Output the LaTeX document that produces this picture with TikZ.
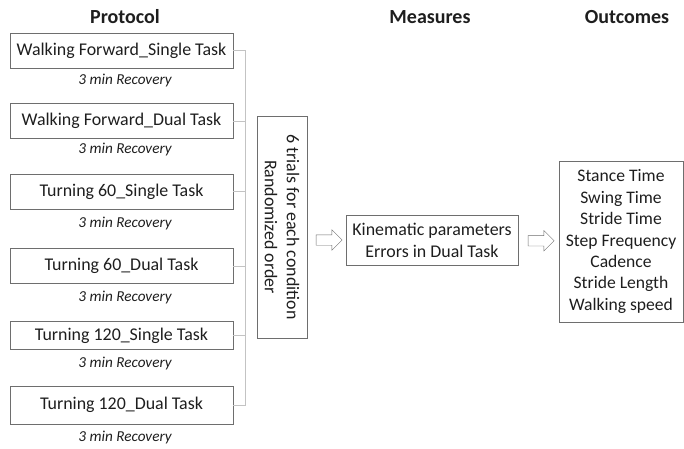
\documentclass[tikz,border=0pt]{standalone}
\usepackage{fontspec}
\setmainfont{Carlito}
\usetikzlibrary{shapes.arrows}
\definecolor{boxline}{RGB}{110,110,110}
\definecolor{linkline}{RGB}{195,195,195}
\definecolor{ink}{RGB}{30,30,30}

\begin{document}
\begin{tikzpicture}[x=1pt, y=-1pt,
  every node/.style={text=ink},
  title/.style={font=\fontsize{20}{24}\selectfont\bfseries},
  task/.style={draw=boxline, minimum width=223pt, minimum height=35pt, inner sep=0pt, font=\fontsize{17.9}{21}\selectfont},
  rest/.style={font=\fontsize{15.2}{18}\selectfont\itshape},
  bigbox/.style={draw=boxline, align=center, inner sep=0pt, font=\fontsize{17.9}{22}\selectfont},
  hollow/.style={single arrow, draw=boxline, fill=white, minimum height=26pt,
    inner xsep=0pt, inner ysep=5pt, single arrow head extend=5pt}]
\useasboundingbox (0,0) rectangle (684,448);
% column titles
\node (protocol)[title] at (125,17) {Protocol};
\node (measures)[title] at (430,17) {Measures};
\node (outcomes)[title] at (627,17) {Outcomes};
% protocol conditions
\node (b1)[task] at (121.5,50.5) {Walking Forward\_Single Task};
\node (r1)[rest] at (125,80) {3 min Recovery};
\node (b2)[task] at (121.5,121) {Walking Forward\_Dual Task};
\node (r2)[rest] at (125,149) {3 min Recovery};
\node (b3)[task] at (121.5,191.5) {Turning 60\_Single Task};
\node (r3)[rest] at (125,223) {3 min Recovery};
\node (b4)[task] at (121.5,266) {Turning 60\_Dual Task};
\node (r4)[rest] at (125,297) {3 min Recovery};
\node (b5)[task, minimum height=28pt] at (121.5,335.5) {Turning 120\_Single Task};
\node (r5)[rest] at (125,363) {3 min Recovery};
\node (b6)[task, minimum height=38pt] at (121.5,405) {Turning 120\_Dual Task};
\node (r6)[rest] at (125,437) {3 min Recovery};
% bracket joining the conditions
\coordinate (spine) at (245,0);
\draw[linkline] (b1.east) -- (b1.east -| spine) -- (b6.east -| spine) -- (b6.east);
\foreach \b in {b2,b3,b4,b5}
  \draw[linkline] (\b.east) -- (\b.east -| spine);
% trials, measures, outcomes
\node (trials)[bigbox, rotate=-90, minimum width=222pt, minimum height=50pt] at (282,227)
  {6 trials for each condition\\Randomized order};
\node (kin)[bigbox, minimum width=172pt, minimum height=50pt] at (432,240)
  {Kinematic parameters\\Errors in Dual Task};
\node (out)[bigbox, minimum width=124pt, minimum height=161pt, font=\fontsize{17.6}{21.4}\selectfont] at (621,241.5)
  {Stance Time\\Swing Time\\Stride Time\\Step Frequency\\Cadence\\Stride Length\\Walking speed};
\path (trials.north |- kin.west) -- node[hollow]{} (kin.west);
\path (kin.east) -- node[hollow]{} (out.west);
\end{tikzpicture}
\end{document}
